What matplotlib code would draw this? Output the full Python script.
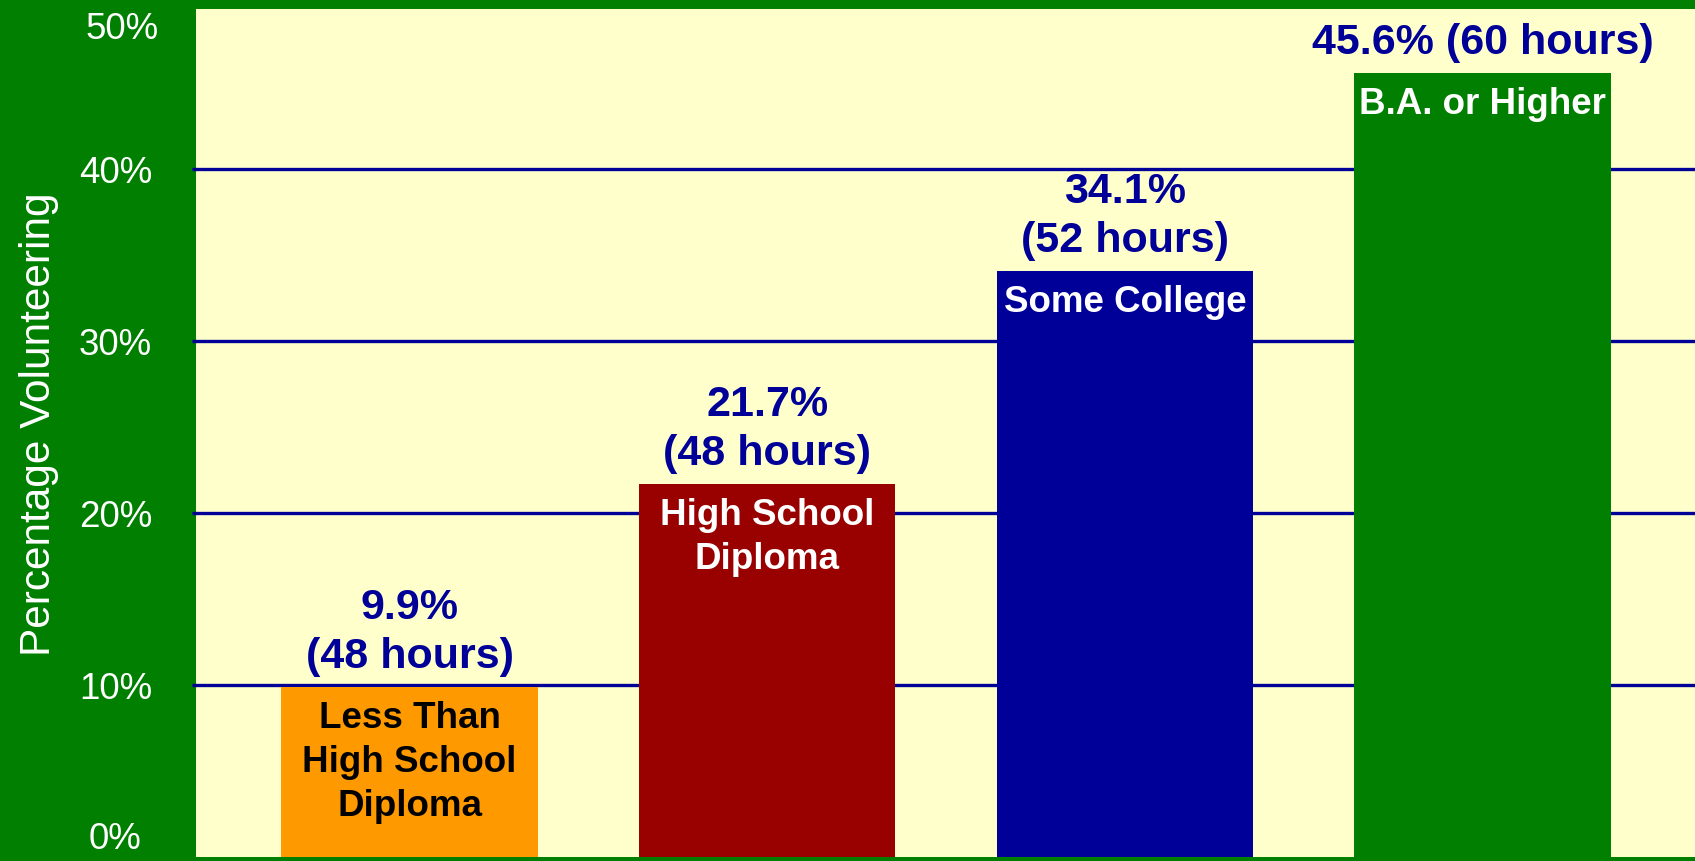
import matplotlib
matplotlib.use("Agg")
import matplotlib.pyplot as plt

# ---- data ----
categories = ["Less Than\nHigh School\nDiploma", "High School\nDiploma",
              "Some College", "B.A. or Higher"]
percentages = [9.9, 21.7, 34.1, 45.6]
hours = [48, 48, 52, 60]
value_labels = ["9.9%\n(48 hours)", "21.7%\n(48 hours)",
                "34.1%\n(52 hours)", "45.6% (60 hours)"]
y_ticks = [0, 10, 20, 30, 40]
y_tick_labels = ["0%", "10%", "20%", "30%", "40%"]

# ---- style ----
BG_GREEN = "#007F00"
PLOT_YELLOW = "#FFFFCC"
NAVY = "#000099"
bar_colors = ["#FF9900", "#990000", "#000099", "#007F00"]
inner_text_colors = ["black", "white", "white", "white"]
FONT = "Liberation Sans"

W, H = 1695, 861
fig = plt.figure(figsize=(W / 100, H / 100), dpi=100, facecolor=BG_GREEN)
ax = fig.add_axes([196 / W, 4 / H, (W - 196) / W, 848 / H])
ax.set_facecolor(PLOT_YELLOW)

x = list(range(len(categories)))
bars = ax.bar(x, percentages, width=0.716, color=bar_colors, zorder=2)

ax.set_xlim(-0.597, 3.594)
ax.set_ylim(0, 49.33)
ax.set_xticks([])
ax.set_yticks(y_ticks)
ax.set_yticklabels(y_tick_labels, fontsize=26.5, color="white", family=FONT)
for s in ax.spines.values():
    s.set_visible(False)

ax.set_axisbelow(True)
ax.yaxis.grid(True, color=NAVY, linewidth=2.4, zorder=0)
ax.yaxis.get_gridlines()[0].set_visible(False)
ax.tick_params(axis="y", length=3, width=2.4, color=NAVY, pad=55)
ax.yaxis.get_ticklines()[0].set_visible(False)
for lbl in ax.get_yticklabels():
    lbl.set_horizontalalignment("center")
ax.get_yticklabels()[0].set_verticalalignment("bottom")

# 50% label at the top edge
fig.text(122 / W, 1 - 39 / H, "50%", ha="center", va="baseline",
         fontsize=26.5, color="white", family=FONT)

ax.set_ylabel("Percentage Volunteering", fontsize=30.5, color="white",
              family=FONT)
ax.yaxis.set_label_coords((59 - 196) / 1499, (857 - 424) / 848)

# value labels above bars
for xi, p, txt in zip(x, percentages, value_labels):
    ax.annotate(txt, xy=(xi, p), xytext=(0, 7), textcoords="offset points",
                ha="center", va="bottom", fontsize=31, fontweight="bold",
                color=NAVY, family=FONT, linespacing=1.3, zorder=3)

# category labels inside bars
for xi, p, cat, tc in zip(x, percentages, categories, inner_text_colors):
    ax.annotate(cat, xy=(xi, p), xytext=(0, -10), textcoords="offset points",
                ha="center", va="top", fontsize=26.5, fontweight="bold",
                color=tc, family=FONT, linespacing=1.33, zorder=3)

fig.savefig("out.png", dpi=100, facecolor=BG_GREEN)
